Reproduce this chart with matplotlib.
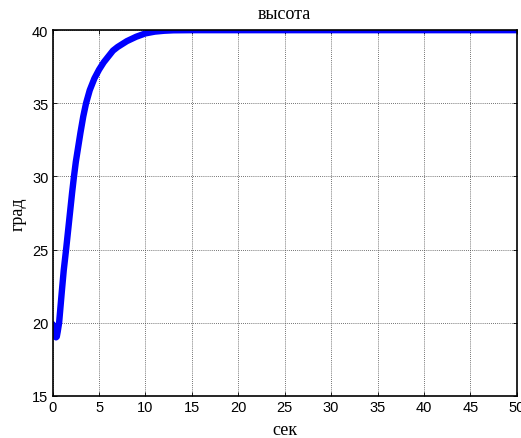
import matplotlib
matplotlib.use('Agg')
import matplotlib.pyplot as plt

# time (s) and height angle (deg)
t = [0, 0.15, 0.3, 0.37, 0.45, 0.55, 0.7, 0.85, 1.0, 1.2, 1.45, 1.7, 1.9, 2.1, 2.3, 2.5,
     2.7, 3.0, 3.3, 3.6, 4.0, 4.5, 5.0, 5.5, 6.0, 6.5, 7.0, 7.5, 8.0, 9.0, 10.0, 11.0,
     12.0, 13.0, 15.0, 20.0, 30.0, 40.0, 50.0]
h = [19.9, 19.4, 19.1, 19.0, 19.05, 19.4, 20.0, 21.1, 22.2, 23.6, 25.0, 26.5, 27.7, 28.9,
     30.0, 31.0, 31.8, 33.0, 34.1, 35.0, 35.9, 36.7, 37.3, 37.8, 38.2, 38.6, 38.85, 39.05,
     39.25, 39.55, 39.78, 39.9, 39.96, 39.99, 40.0, 40.0, 40.0, 40.0, 40.0]

xticks = [0, 5, 10, 15, 20, 25, 30, 35, 40, 45, 50]
yticks = [15, 20, 25, 30, 35, 40]

fig = plt.figure(figsize=(5.21, 4.39), dpi=100)
ax = fig.add_axes([0.101, 0.096, 0.891, 0.833])

ax.plot(t, h, color='#0000ff', lw=4.6, solid_capstyle='round', solid_joinstyle='round')

ax.set_xlim(0, 50)
ax.set_ylim(15, 40)
ax.set_xticks(xticks)
ax.set_yticks(yticks)
ax.tick_params(direction='in', top=True, right=True, length=3, width=0.6,
               labelsize=10.5, pad=3)
for lab in ax.get_xticklabels() + ax.get_yticklabels():
    lab.set_family(['Liberation Sans', 'DejaVu Sans'])
ax.grid(True, color='#444444', linestyle=(0, (1, 1.5)), linewidth=0.6)
for s in ax.spines.values():
    s.set_linewidth(1.2)

serif = ['Liberation Serif', 'DejaVu Serif']
ax.set_title('высота', family=serif, fontsize=13, pad=9)
ax.set_xlabel('сек', family=serif, fontsize=13, labelpad=5)
ax.set_ylabel('град', family=serif, fontsize=13, labelpad=4)

fig.savefig('out.png', dpi=100)
